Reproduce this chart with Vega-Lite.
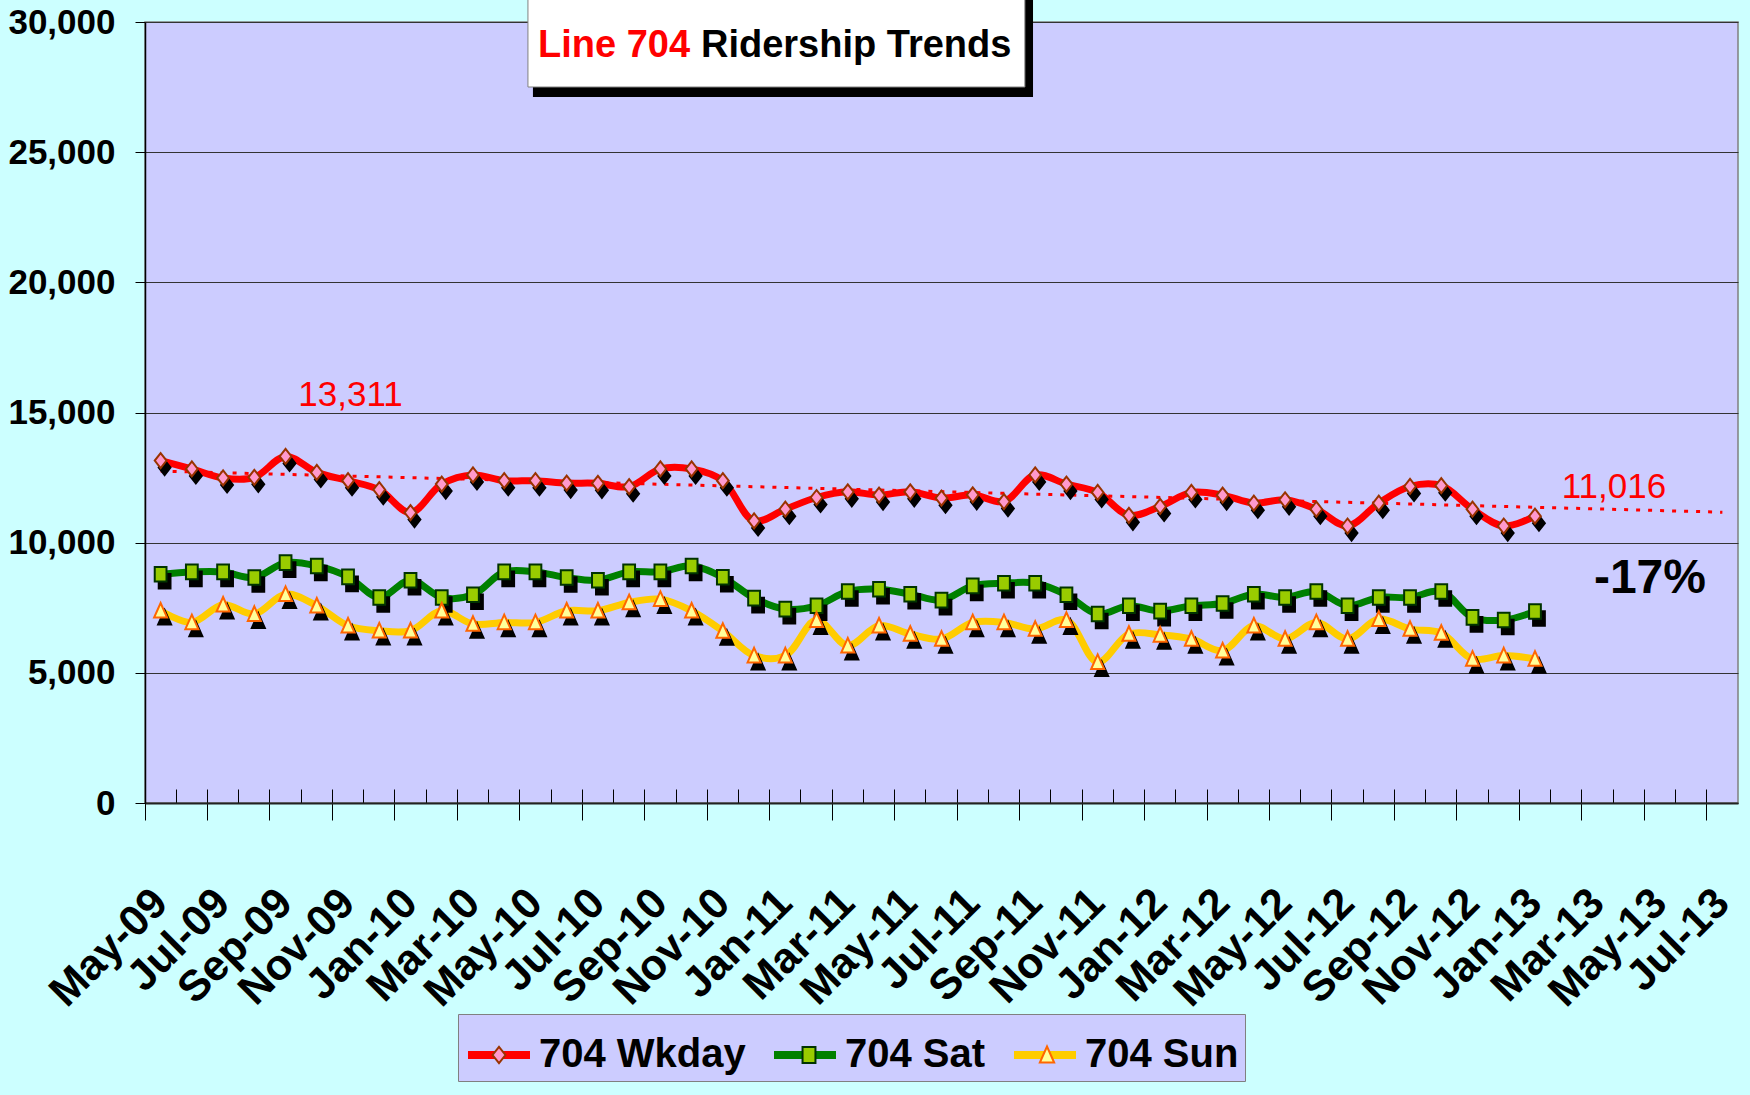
{
  "$schema": "https://vega.github.io/schema/vega-lite/v6.json",
  "width": 1593,
  "height": 781,
  "autosize": {"type": "none"},
  "padding": {"left": 145, "top": 22, "right": 12, "bottom": 292},
  "background": "#CCFFFF",
  "config": {
    "view": {"fill": "#CCCCFF", "stroke": "#808080", "strokeWidth": 1.5},
    "font": "Liberation Sans"
  },
  "datasets": {
    "ridership": [
      {"month": "May-09", "704 Wkday": 13155, "704 Sat": 8788, "704 Sun": 7384},
      {"month": "Jun-09", "704 Wkday": 12833, "704 Sat": 8877, "704 Sun": 6938},
      {"month": "Jul-09", "704 Wkday": 12485, "704 Sat": 8877, "704 Sun": 7614},
      {"month": "Aug-09", "704 Wkday": 12510, "704 Sat": 8660, "704 Sun": 7257},
      {"month": "Sep-09", "704 Wkday": 13311, "704 Sat": 9234, "704 Sun": 8022},
      {"month": "Oct-09", "704 Wkday": 12700, "704 Sat": 9107, "704 Sun": 7576},
      {"month": "Nov-09", "704 Wkday": 12380, "704 Sat": 8686, "704 Sun": 6810},
      {"month": "Dec-09", "704 Wkday": 12033, "704 Sat": 7895, "704 Sun": 6619},
      {"month": "Jan-10", "704 Wkday": 11156, "704 Sat": 8558, "704 Sun": 6619},
      {"month": "Feb-10", "704 Wkday": 12250, "704 Sat": 7895, "704 Sun": 7384},
      {"month": "Mar-10", "704 Wkday": 12600, "704 Sat": 7997, "704 Sun": 6874},
      {"month": "Apr-10", "704 Wkday": 12380, "704 Sat": 8877, "704 Sun": 6938},
      {"month": "May-10", "704 Wkday": 12380, "704 Sat": 8877, "704 Sun": 6938},
      {"month": "Jun-10", "704 Wkday": 12290, "704 Sat": 8660, "704 Sun": 7384},
      {"month": "Jul-10", "704 Wkday": 12280, "704 Sat": 8558, "704 Sun": 7384},
      {"month": "Aug-10", "704 Wkday": 12150, "704 Sat": 8877, "704 Sun": 7703},
      {"month": "Sep-10", "704 Wkday": 12833, "704 Sat": 8877, "704 Sun": 7831},
      {"month": "Oct-10", "704 Wkday": 12833, "704 Sat": 9107, "704 Sun": 7384},
      {"month": "Nov-10", "704 Wkday": 12380, "704 Sat": 8670, "704 Sun": 6605},
      {"month": "Dec-10", "704 Wkday": 10833, "704 Sat": 7869, "704 Sun": 5663},
      {"month": "Jan-11", "704 Wkday": 11285, "704 Sat": 7448, "704 Sun": 5663},
      {"month": "Feb-11", "704 Wkday": 11735, "704 Sat": 7576, "704 Sun": 7027},
      {"month": "Mar-11", "704 Wkday": 11955, "704 Sat": 8124, "704 Sun": 6044},
      {"month": "Apr-11", "704 Wkday": 11827, "704 Sat": 8214, "704 Sun": 6810},
      {"month": "May-11", "704 Wkday": 11955, "704 Sat": 8022, "704 Sun": 6491},
      {"month": "Jun-11", "704 Wkday": 11710, "704 Sat": 7792, "704 Sun": 6300},
      {"month": "Jul-11", "704 Wkday": 11840, "704 Sat": 8341, "704 Sun": 6938},
      {"month": "Aug-11", "704 Wkday": 11580, "704 Sat": 8443, "704 Sun": 6938},
      {"month": "Sep-11", "704 Wkday": 12600, "704 Sat": 8443, "704 Sun": 6682},
      {"month": "Oct-11", "704 Wkday": 12250, "704 Sat": 7997, "704 Sun": 7027},
      {"month": "Nov-11", "704 Wkday": 11930, "704 Sat": 7257, "704 Sun": 5408},
      {"month": "Dec-11", "704 Wkday": 11050, "704 Sat": 7576, "704 Sun": 6491},
      {"month": "Jan-12", "704 Wkday": 11390, "704 Sat": 7370, "704 Sun": 6460},
      {"month": "Feb-12", "704 Wkday": 11930, "704 Sat": 7576, "704 Sun": 6300},
      {"month": "Mar-12", "704 Wkday": 11827, "704 Sat": 7665, "704 Sun": 5853},
      {"month": "Apr-12", "704 Wkday": 11517, "704 Sat": 8022, "704 Sun": 6810},
      {"month": "May-12", "704 Wkday": 11646, "704 Sat": 7895, "704 Sun": 6300},
      {"month": "Jun-12", "704 Wkday": 11285, "704 Sat": 8124, "704 Sun": 6938},
      {"month": "Jul-12", "704 Wkday": 10640, "704 Sat": 7576, "704 Sun": 6300},
      {"month": "Aug-12", "704 Wkday": 11517, "704 Sat": 7895, "704 Sun": 7065},
      {"month": "Sep-12", "704 Wkday": 12162, "704 Sat": 7895, "704 Sun": 6682},
      {"month": "Oct-12", "704 Wkday": 12188, "704 Sat": 8124, "704 Sun": 6529},
      {"month": "Nov-12", "704 Wkday": 11285, "704 Sat": 7129, "704 Sun": 5535},
      {"month": "Dec-12", "704 Wkday": 10640, "704 Sat": 7027, "704 Sun": 5663},
      {"month": "Jan-13", "704 Wkday": 11016, "704 Sat": 7359, "704 Sun": 5535}
    ],
    "trend": [
      {"month": "May-09", "trend": 12750},
      {"month": "Jul-13", "trend": 11170}
    ]
  },
  "layer": [
    {
      "data": {"name": "ridership"},
      "transform": [{"fold": ["704 Wkday", "704 Sat", "704 Sun"], "as": ["series", "riders"]}],
      "encoding": {
        "x": {
          "field": "month", "type": "ordinal",
          "scale": {"type": "band", "paddingInner": 0, "paddingOuter": 0,
            "domain": ["May-09","Jun-09","Jul-09","Aug-09","Sep-09","Oct-09","Nov-09","Dec-09","Jan-10","Feb-10","Mar-10","Apr-10","May-10","Jun-10","Jul-10","Aug-10","Sep-10","Oct-10","Nov-10","Dec-10","Jan-11","Feb-11","Mar-11","Apr-11","May-11","Jun-11","Jul-11","Aug-11","Sep-11","Oct-11","Nov-11","Dec-11","Jan-12","Feb-12","Mar-12","Apr-12","May-12","Jun-12","Jul-12","Aug-12","Sep-12","Oct-12","Nov-12","Dec-12","Jan-13","Feb-13","Mar-13","Apr-13","May-13","Jun-13","Jul-13"]},
          "axis": null
        },
        "y": {
          "field": "riders", "type": "quantitative",
          "scale": {"domain": [0, 30000]},
          "axis": {
            "values": [0, 5000, 10000, 15000, 20000, 25000, 30000],
            "labelExpr": "format(datum.value, ',.0f')", "title": null,
            "labelFont": "Liberation Sans",
            "labelFontSize": 35, "labelFontWeight": "bold", "labelColor": "black",
            "labelPadding": 20, "tickSize": 10, "tickColor": "black", "tickWidth": 1,
            "domainColor": "black", "domainWidth": 1.5,
            "grid": true, "gridColor": "#333333", "gridWidth": 1
          }
        }
      },
      "layer": [
        {
          "data": {"name": "trend"},
          "mark": {"type": "line", "color": "#FF0000", "strokeWidth": 3, "strokeDash": [4, 8]},
          "encoding": {
            "x": {
              "field": "month", "type": "ordinal",
              "scale": {"type": "band", "paddingInner": 0, "paddingOuter": 0,
                "domain": ["May-09","Jun-09","Jul-09","Aug-09","Sep-09","Oct-09","Nov-09","Dec-09","Jan-10","Feb-10","Mar-10","Apr-10","May-10","Jun-10","Jul-10","Aug-10","Sep-10","Oct-10","Nov-10","Dec-10","Jan-11","Feb-11","Mar-11","Apr-11","May-11","Jun-11","Jul-11","Aug-11","Sep-11","Oct-11","Nov-11","Dec-11","Jan-12","Feb-12","Mar-12","Apr-12","May-12","Jun-12","Jul-12","Aug-12","Sep-12","Oct-12","Nov-12","Dec-12","Jan-13","Feb-13","Mar-13","Apr-13","May-13","Jun-13","Jul-13"]},
              "axis": {
                "orient": "bottom", "bandPosition": 0, "tickSize": -14, "tickColor": "black", "tickWidth": 1,
                "labels": false, "domain": false, "grid": false, "title": null
              }
            },
            "y": {"field": "trend", "type": "quantitative", "scale": {"domain": [0, 30000]}}
          }
        },
        {
          "mark": {"type": "line", "interpolate": "catmull-rom", "strokeWidth": 7, "strokeCap": "round", "strokeJoin": "round"},
          "encoding": {
            "x": {
              "field": "month", "type": "ordinal",
              "scale": {"type": "band", "paddingInner": 0, "paddingOuter": 0,
                "domain": ["May-09","Jun-09","Jul-09","Aug-09","Sep-09","Oct-09","Nov-09","Dec-09","Jan-10","Feb-10","Mar-10","Apr-10","May-10","Jun-10","Jul-10","Aug-10","Sep-10","Oct-10","Nov-10","Dec-10","Jan-11","Feb-11","Mar-11","Apr-11","May-11","Jun-11","Jul-11","Aug-11","Sep-11","Oct-11","Nov-11","Dec-11","Jan-12","Feb-12","Mar-12","Apr-12","May-12","Jun-12","Jul-12","Aug-12","Sep-12","Oct-12","Nov-12","Dec-12","Jan-13","Feb-13","Mar-13","Apr-13","May-13","Jun-13","Jul-13"]},
              "axis": {
                "orient": "bottom",
                "values": ["May-09","Jul-09","Sep-09","Nov-09","Jan-10","Mar-10","May-10","Jul-10","Sep-10","Nov-10","Jan-11","Mar-11","May-11","Jul-11","Sep-11","Nov-11","Jan-12","Mar-12","May-12","Jul-12","Sep-12","Nov-12","Jan-13","Mar-13","May-13","Jul-13"],
                "bandPosition": 0, "tickSize": 17, "tickColor": "black", "tickWidth": 1,
                "domainColor": "#222222", "domainWidth": 2,
                "labelAngle": -45, "labelAlign": "right", "labelBaseline": "middle",
                "labelFont": "Liberation Sans", "labelFontSize": 43, "labelFontWeight": "bold", "labelColor": "black",
                "labelPadding": 76, "labelOverlap": false, "labelBound": false, "labelFlush": false, "labelLimit": 400,
                "grid": false, "title": null
              }
            },
            "stroke": {
              "field": "series", "type": "nominal",
              "scale": {"domain": ["704 Wkday", "704 Sat", "704 Sun"], "range": ["#FF0000", "#008000", "#FFCC00"]},
              "legend": {
                "orient": "none", "legendX": 313, "legendY": 992, "direction": "horizontal", "title": null,
                "symbolType": "stroke", "symbolSize": 3844, "symbolStrokeWidth": 8, "symbolOpacity": 1,
                "labelFont": "Liberation Sans",
                "labelFontSize": 40, "labelFontWeight": "bold", "labelColor": "black", "labelLimit": 500,
                "labelOffset": 5, "columnPadding": 12, "padding": 6,
                "fillColor": "#CCCCFF", "strokeColor": "#808080"
              }
            }
          }
        },
        {
          "mark": {"type": "point", "filled": true, "size": 3844, "color": "black", "stroke": "black", "strokeWidth": 2, "opacity": 1, "xOffset": 4, "yOffset": 7,
            "shape": {"expr": "datum.series === '704 Wkday' ? 'M0,-0.242L0.19,0L0,0.242L-0.19,0Z' : datum.series === '704 Sat' ? 'M-0.19,-0.235H0.19V0.235H-0.19Z' : 'M0,-0.25L0.21,0.22H-0.21Z'"}},
          "encoding": {}
        },
        {
          "mark": {"type": "point", "filled": true, "size": 3844, "strokeWidth": 2, "opacity": 1,
            "fill": {"expr": "(datum.series || datum.value) === '704 Wkday' ? '#FF99CC' : (datum.series || datum.value) === '704 Sat' ? '#99CC00' : '#FFFF99'"},
            "stroke": {"expr": "(datum.series || datum.value) === '704 Wkday' ? '#993300' : (datum.series || datum.value) === '704 Sat' ? '#003300' : '#FF6600'"}},
          "encoding": {
            "shape": {
              "field": "series", "type": "nominal", "sort": ["704 Wkday", "704 Sat", "704 Sun"],
              "scale": {"range": ["M0,-0.242L0.19,0L0,0.242L-0.19,0Z", "M-0.19,-0.235H0.19V0.235H-0.19Z", "M0,-0.25L0.21,0.22H-0.21Z"]},
              "legend": {
                "orient": "none", "legendX": 313, "legendY": 992, "direction": "horizontal", "title": null,
                "symbolSize": 4624, "symbolStrokeWidth": 2, "symbolOpacity": 1,
                "labelFont": "Liberation Sans",
                "labelFontSize": 43, "labelFontWeight": "bold", "labelOpacity": 0, "labelLimit": 500,
                "labelOffset": 5, "columnPadding": 12, "padding": 6
              }
            }
          }
        },
        {
          "transform": [{"filter": "datum.series === '704 Wkday' && datum.month === 'Sep-09'"}],
          "mark": {"type": "text", "color": "#FF0000", "align": "center", "baseline": "alphabetic", "dx": 65, "dy": -50,
            "font": "Liberation Sans", "fontSize": 35},
          "encoding": {"text": {"field": "riders", "type": "quantitative", "format": ",.0f"}}
        },
        {
          "transform": [{"filter": "datum.series === '704 Wkday' && datum.month === 'Jan-13'"}],
          "mark": {"type": "text", "color": "#FF0000", "align": "center", "baseline": "alphabetic", "dx": 79, "dy": -18,
            "font": "Liberation Sans", "fontSize": 35},
          "encoding": {"text": {"field": "riders", "type": "quantitative", "format": ",.0f"}}
        },
        {
          "transform": [{"filter": "datum.series === '704 Wkday' && datum.month === 'Jan-13'"}],
          "mark": {"type": "text", "color": "black", "align": "center", "baseline": "alphabetic", "dx": 115, "dy": 77,
            "font": "Liberation Sans", "fontSize": 48, "fontWeight": "bold", "text": "-17%"},
          "encoding": {}
        }
      ],
      "resolve": {"axis": {"x": "independent"}}
    },
    {
      "data": {"values": [{}]},
      "layer": [
        {
          "mark": {"type": "rect", "fill": "black"},
          "encoding": {
            "x": {"datum": 12.42, "type": "quantitative", "scale": {"domain": [0, 51]}, "axis": null},
            "x2": {"datum": 28.43},
            "y": {"datum": 27119, "type": "quantitative", "scale": {"domain": [0, 30000]}},
            "y2": {"datum": 31500}
          }
        },
        {
          "mark": {"type": "rect", "fill": "white", "stroke": "#808080", "strokeWidth": 1},
          "encoding": {
            "x": {"datum": 12.26, "type": "quantitative", "scale": {"domain": [0, 51]}, "axis": null},
            "x2": {"datum": 28.17},
            "y": {"datum": 27503, "type": "quantitative", "scale": {"domain": [0, 30000]}},
            "y2": {"datum": 31500}
          }
        },
        {
          "mark": {"type": "text", "text": "Line 704", "color": "#FF0000", "align": "right", "baseline": "alphabetic",
            "font": "Liberation Sans", "fontSize": 38, "fontWeight": "bold"},
          "encoding": {
            "x": {"datum": 17.45, "type": "quantitative", "scale": {"domain": [0, 51]}, "axis": null},
            "y": {"datum": 28656, "type": "quantitative", "scale": {"domain": [0, 30000]}}
          }
        },
        {
          "mark": {"type": "text", "text": "Ridership Trends", "color": "black", "align": "left", "baseline": "alphabetic",
            "font": "Liberation Sans", "fontSize": 38, "fontWeight": "bold"},
          "encoding": {
            "x": {"datum": 17.8, "type": "quantitative", "scale": {"domain": [0, 51]}, "axis": null},
            "y": {"datum": 28656, "type": "quantitative", "scale": {"domain": [0, 30000]}}
          }
        }
      ]
    }
  ],
  "resolve": {"scale": {"x": "independent"}}
}
